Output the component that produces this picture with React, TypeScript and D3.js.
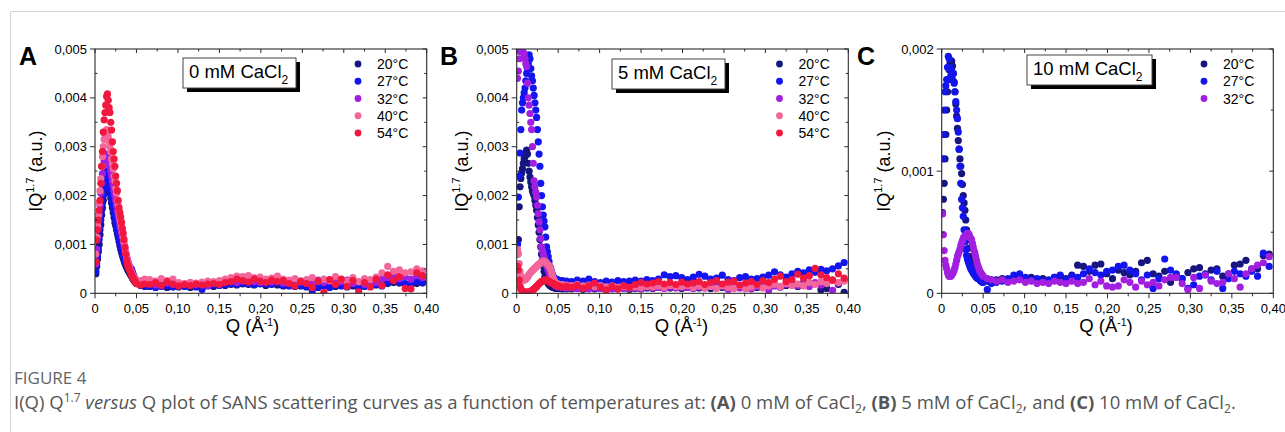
import React from "react";
import * as d3 from "d3";

// Q grid (Å^-1): dense below 0.05, coarser above
const Q = [
  0.001, 0.002, 0.003, 0.004, 0.005, 0.006, 0.007, 0.008, 0.009, 0.010,
  0.011, 0.012, 0.013, 0.014, 0.015, 0.016, 0.017, 0.018, 0.019, 0.020,
  0.021, 0.022, 0.023, 0.024, 0.025, 0.026, 0.027, 0.028, 0.029, 0.030,
  0.031, 0.032, 0.033, 0.034, 0.035, 0.036, 0.037, 0.038, 0.039, 0.040,
  0.041, 0.042, 0.043, 0.044, 0.045, 0.046, 0.047, 0.048, 0.049, 0.050,
  0.055, 0.060,
  0.066, 0.073, 0.080, 0.087, 0.094, 0.101, 0.108, 0.115, 0.122, 0.129,
  0.136, 0.143, 0.150, 0.157, 0.164, 0.171, 0.178, 0.185, 0.192, 0.199,
  0.206, 0.213, 0.220, 0.227, 0.234, 0.241, 0.248, 0.255, 0.262, 0.269,
  0.276, 0.283, 0.290, 0.297, 0.304, 0.311, 0.318, 0.325, 0.332, 0.339,
  0.346, 0.353, 0.360, 0.367, 0.374, 0.381, 0.388, 0.395,
];

// IQ^1.7 values, in units of 1e-4
// (A) 0 mM CaCl2
const A_20 = [
  4, 5.5, 7, 8.5, 10, 12, 14, 16, 17.5, 19, 20.5, 21.5, 22.5, 23, 23, 22.5, 21.5, 20.5, 19.5, 18.5,
  17.5, 16.5, 15.5, 14.5, 13.8, 13, 12.2, 11.4, 10.6, 9.8, 9, 8.4, 7.8, 7.2, 6.7, 6.2, 5.8, 5.4, 5, 4.7,
  4.4, 4.1, 3.8, 3.5, 3.2, 2.9, 2.6, 2.4, 2.2, 2.0, 1.6, 1.4,
  1.4, 1.3, 1.5, 1.2, 1.4, 1.3, 1.5, 1.2, 1.4, 1.3, 1.6, 1.4, 1.7, 1.6, 1.8, 1.7, 1.9, 1.8, 1.7, 1.9,
  1.6, 1.8, 1.7, 1.5, 1.6, 1.4, 1.5, 1.3, 1.4, 1.2, 1.5, 1.3, 1.4, 1.6, 1.3, 1.5, 1.2, 1.6, 1.4, 1.7,
  1.8, 2.0, 2.2, 2.1, 1.9, 2.2, 2.0, 2.1,
];
const A_27 = [
  4.5, 6, 7.5, 9, 11, 13, 15, 17, 18.5, 20, 21.5, 23, 24, 25, 24.8, 24, 23, 22, 21, 20,
  19, 18, 17, 16, 15, 14, 13, 12, 11.2, 10.5, 9.8, 9, 8.4, 7.8, 7.3, 6.8, 6.4, 6.1, 5.9, 5.7,
  5.5, 5.3, 5.1, 4.9, 4.4, 3.9, 3.4, 3.0, 2.6, 2.3, 1.7, 1.5,
  1.5, 1.2, 1.4, 1.6, 1.3, 1.5, 1.4, 1.6, 1.3, 0.8, 1.5, 1.7, 1.6, 1.8, 2.0, 1.9, 2.1, 2.0, 1.8, 2.0,
  1.8, 1.9, 2.1, 1.7, 1.5, 1.8, 1.6, 1.4, 0.5, 1.3, 1.6, 1.2, 1.7, 1.5, 1.4, 1.9, 1.1, 1.4, 1.6, 1.8,
  1.5, 2.3, 2.6, 2.4, 2.0, 1.8, 2.5, 2.3,
];
const A_32 = [
  6, 9, 11.5, 13.5, 16, 18, 20.5, 22.5, 24.5, 26, 27, 28, 28.5, 28.5, 28, 27.5, 27, 26, 25, 24,
  23, 22, 21, 20, 19, 18, 17, 16, 15, 14, 13.2, 12.4, 11.6, 10.8, 10, 9.2, 8.4, 7.6, 7, 6.4,
  5.8, 5.3, 4.8, 4.4, 4, 3.6, 3.3, 3, 2.8, 2.6, 2.2, 2.3,
  2.0, 1.7, 2.4, 2.1, 1.8, 2.0, 1.9, 2.2, 1.8, 2.0, 1.6, 2.1, 1.9, 2.3, 2.6, 2.2, 2.5, 2.8, 2.4, 2.2,
  2.6, 2.3, 2.5, 2.1, 2.4, 1.9, 2.3, 2.6, 2.0, 2.7, 2.2, 2.5, 2.1, 2.4, 2.7, 2.0, 2.3, 1.8, 2.6, 2.2,
  2.9, 3.2, 3.8, 3.0, 3.4, 2.9, 3.6, 3.2,
];
const A_40 = [
  8, 11.5, 14, 16, 18.5, 21, 23.5, 26, 28, 30, 31.5, 32.5, 33, 33.5, 33, 32, 31, 30, 29, 27.5,
  26.5, 25.5, 24, 23, 21.5, 20.5, 19, 18, 16.5, 15.5, 14.5, 13.5, 12.5, 11.5, 10.5, 9.5, 8.5, 7.5, 6.8, 6,
  5.5, 5, 4.6, 4.2, 3.8, 3.5, 3.2, 3, 2.8, 2.7, 2.6, 2.9,
  2.8, 2.5, 3.0, 2.6, 2.9, 2.2, 2.0, 2.2, 2.1, 2.3, 2.5, 2.4, 2.6, 2.9, 3.2, 3.5, 3.4, 3.6, 3.2, 3.3,
  2.9, 3.1, 3.5, 2.9, 2.7, 3.0, 2.6, 2.8, 3.2, 2.5, 2.9, 2.6, 3.4, 2.8, 2.5, 3.2, 2.4, 3.0, 2.8, 3.3,
  4.2, 5.5, 4.5, 4.8, 4.2, 4.4, 5.0, 4.6,
];
const A_54 = [
  6.5, 10.9, 13, 15, 17, 19, 22.5, 26, 29, 33, 35.5, 37, 38.5, 40.3, 40.8, 39.5, 38, 37, 35, 33.4,
  31, 29, 27.5, 26, 24, 22.5, 21, 19, 17.5, 16.5, 15.6, 14.5, 13.3, 12.3, 11, 9.4, 8, 6.8, 6, 5.4,
  5, 4.7, 4.2, 3.8, 3.4, 3.1, 2.8, 2.5, 2.2, 2.0, 1.7, 1.9,
  1.8, 2.2, 1.6, 2.4, 1.9, 1.5, 1.8, 1.6, 1.9, 1.7, 1.9, 2.0, 1.8, 2.2, 2.4, 2.9, 2.6, 2.3, 2.9, 2.5,
  2.2, 2.7, 2.4, 2.6, 2.0, 1.5, 2.4, 2.0, 1.2, 2.5, 0.2, 2.8, 1.8, 2.9, 1.4, 2.6, 0.3, 2.2, 1.3, 2.9,
  1.6, 3.8, 2.6, 3.4, 1.0, 0.9, 4.2, 3.6,
];

// (B) 5 mM CaCl2
const B_20 = [
  8, 11, 17.7, 21.8, 23.5, 24.6, 25.5, 26.6, 27.5, 28, 28.8, 29.3, 28.5, 26.6, 25, 23.8, 22.8, 21.8, 21, 20.5,
  20, 19, 18, 17, 15.5, 14, 12.5, 11, 9.5, 8, 6.8, 5.6, 4.5, 3.4, 3.0, 2.6, 2.3, 2.0, 1.8, 1.6,
  1.5, 1.4, 1.3, 1.2, 1.2, 1.1, 1.1, 1.0, 1.0, 1.0, 0.9, 0.9,
  0.9, 1.0, 0.8, 1.1, 0.9, 1.0, 0.8, 1.0, 0.9, 1.1, 0.8, 1.0, 0.9, 1.1, 1.0, 1.2, 1.4, 1.1, 1.3, 1.0,
  1.2, 1.4, 1.1, 1.3, 1.0, 1.5, 1.2, 1.4, 1.1, 1.6, 1.3, 1.7, 1.2, 1.5, 1.4, 1.8, 1.3, 1.6, 1.9, 1.4,
  2.2, 1.6, 2.0, 0.7, 1.0, 2.7, 1.8, 0.2,
];
const B_27 = [
  10, 19.7, 24, 28.7, 33.5, 37.5, 39, 40, 41, 42, 43.5, 45, 46, 47, 48.8, 48, 46, 44.5, 43.5, 42,
  40.5, 39, 37.5, 36, 33.5, 31, 28.5, 26, 22.5, 20, 17.7, 16, 14.8, 13.6, 11.5, 9.5, 8.5, 7.5, 6.5, 5.5,
  5, 4.4, 3.9, 3.4, 3.2, 3.0, 2.9, 2.8, 2.8, 2.7, 2.6, 2.5,
  2.4, 2.7, 2.5, 2.9, 2.4, 2.2, 2.5, 2.3, 2.6, 2.4, 2.5, 2.7, 2.5, 2.8, 2.6, 2.9, 3.8, 3.4, 3.6, 3.2,
  2.8, 3.3, 3.9, 3.5, 2.9, 3.1, 3.7, 2.8, 2.6, 3.2, 3.4, 2.9, 3.0, 3.3, 3.7, 4.4, 3.8, 3.3, 4.0, 4.5,
  4.2, 4.8, 4.3, 4.9, 4.6, 5.0, 5.6, 6.3,
];
const B_32 = [
  44, 45.5, 48, 49.5, 49.7, 49.6, 49.5, 49.3, 49, 48, 47, 46.4, 43, 40, 38.5, 36.8, 35, 33.5, 30, 26.6,
  23, 21.8, 20.7, 19.7, 18, 16.3, 14.6, 13, 11.2, 9.5, 8.8, 8.1, 7.4, 6.8, 6.2, 5.7, 5.2, 4.8, 4.2, 3.6,
  3.1, 2.7, 2.4, 2.1, 1.9, 1.7, 1.6, 1.5, 1.4, 1.3, 1.2, 1.1,
  1.1, 1.0, 1.2, 0.9, 1.1, 1.0, 1.2, 0.9, 1.1, 1.0, 1.2, 1.1, 1.0, 1.3, 1.1, 1.2, 1.0, 1.3, 1.1, 1.4,
  1.2, 1.0, 1.3, 1.1, 1.4, 1.2, 1.5, 0.8, 1.3, 1.1, 1.6, 0.9, 1.4, 1.2, 0.6, 1.5, 1.3, 1.8, 2.4, 1.6,
  2.0, 1.4, 2.2, 1.7, 2.5, 0.6, 2.1, 2.7,
];
const B_40 = [
  9, 8.1, 6.1, 4.5, 3.6, 3.1, 2.8, 2.7, 2.7, 2.8, 2.9, 3.1, 3.3, 3.6, 3.9, 4.1, 4.3, 4.5, 4.7, 4.8,
  5.0, 5.2, 5.3, 5.5, 5.7, 5.8, 6.0, 6.1, 6.3, 6.4, 6.5, 6.6, 6.6, 6.5, 6.4, 6.2, 6.0, 5.8, 5.6, 5.4,
  4.8, 4.2, 3.6, 3.1, 2.7, 2.3, 2.1, 2.0, 1.9, 1.9, 1.8, 1.7,
  1.6, 1.8, 1.5, 1.7, 1.4, 1.6, 1.3, 1.5, 1.2, 1.4, 1.1, 1.3, 1.2, 1.4, 1.3, 1.5, 1.2, 1.6, 1.4, 1.3,
  1.6, 1.2, 1.5, 1.1, 1.4, 1.0, 1.5, 1.2, 1.0, 1.6, 0.9, 1.3, 1.7, 1.1, 1.5, 1.8, 1.4, 2.0, 1.6, 1.9,
  1.5, 2.2, 1.8, 2.4, 2.0, 2.6, 2.2, 2.5,
];
const B_54 = [
  5.5, 4.8, 2.7, 1.4, 0.9, 0.6, 0.4, 0.3, 0.3, 0.2, 0.2, 0.2, 0.2, 0.3, 0.3, 0.3, 0.4, 0.5, 0.6, 0.8,
  0.9, 1.1, 1.2, 1.4, 1.6, 1.8, 2.0, 2.1, 2.3, 2.4, 2.5, 2.6, 2.7, 2.7, 2.7, 2.7, 2.6, 2.5, 2.4, 2.3,
  2.2, 2.1, 2.0, 2.0, 1.9, 1.8, 1.7, 1.6, 1.5, 1.5, 1.3, 1.4,
  1.2, 1.6, 1.0, 1.5, 2.1, 1.3, 0.7, 1.4, 0.9, 1.6, 1.2, 1.8, 2.2, 1.9, 2.1, 2.4, 1.9, 2.2, 1.8, 2.3,
  1.9, 2.1, 2.4, 1.8, 2.2, 2.6, 1.9, 2.3, 2.5, 1.7, 2.1, 2.4, 1.8, 2.6, 2.2, 2.9, 3.5, 2.4, 2.8, 3.9,
  3.1, 3.6, 5.1, 3.8, 3.2, 2.7, 4.0, 3.1,
];

// (C) 10 mM CaCl2
const C_20 = [
  6.6, 7.7, 9, 11, 13, 15, 16.5, 17.5, 18.3, 18.8, 19, 19, 18.6, 18, 17.3, 16.5, 15.5, 14.5, 13.5, 12.5,
  11.8, 11, 10.4, 9.8, 8.9, 8, 7.4, 6.8, 6, 5.2, 4.8, 4.4, 3.7, 3.0, 2.6, 2.2, 1.9, 1.7, 1.6, 1.5,
  1.4, 1.3, 1.3, 1.2, 1.2, 1.1, 1.1, 1.1, 1.0, 1.0, 1.0, 1.1,
  1.1, 1.2, 1.1, 1.3, 1.4, 1.2, 1.3, 1.1, 1.2, 1.0, 1.3, 1.4, 1.2, 1.5, 2.3, 2.2, 1.8, 2.3, 2.4, 1.6,
  1.2, 1.9, 1.7, 1.5, 1.8, 2.5, 2.7, 1.6, 1.4, 1.8, 0.9, 1.5, 1.2, 1.7, 2.0, 2.1, 1.6, 1.9, 2.0, 1.4,
  1.6, 2.3, 2.4, 2.7, 2.0, 2.0, 3.1, 3.2,
];
const C_27 = [
  11, 13, 15, 16.5, 17, 17.5, 18.5, 19.4, 19.2, 18.5, 17.8, 18.2, 17.5, 18, 17.2, 16.5, 15.7, 15, 14.3, 13.2,
  11.8, 10.4, 9.0, 7.7, 7.0, 6.3, 5.2, 4.2, 3.6, 3.1, 2.8, 2.6, 2.4, 2.2, 2.0, 1.9, 1.8, 1.7, 1.6, 1.5,
  1.4, 1.4, 1.3, 1.2, 1.2, 1.1, 1.0, 1.0, 0.9, 0.9, 0.3, 0.8,
  0.9, 1.0, 1.2, 1.5, 1.6, 1.3, 1.1, 1.2, 1.0, 1.1, 1.3, 1.5, 1.1, 1.4, 1.3, 1.6, 2.0, 1.7, 1.5, 1.8,
  1.9, 2.2, 2.3, 1.9, 1.6, 1.1, 1.5, 0.4, 1.2, 2.8, 1.9, 1.6, 1.2, 0.4, 0.7, 1.4, 1.5, 1.1, 1.8, 0.4,
  1.2, 1.8, 1.6, 1.4, 1.8, 1.4, 3.3, 2.2,
];
const C_32 = [
  6.5, 4.8, 3.5, 2.7, 2.3, 2.0, 1.7, 1.5, 1.4, 1.4, 1.4, 1.5, 1.6, 1.7, 1.9, 2.1, 2.4, 2.7, 3.0, 3.2,
  3.4, 3.6, 3.9, 4.1, 4.3, 4.5, 4.6, 4.7, 4.7, 4.8, 4.9, 4.9, 4.8, 4.6, 4.5, 4.4, 4.1, 3.8, 3.5, 3.3,
  3.0, 2.7, 2.4, 2.2, 2.0, 1.8, 1.7, 1.6, 1.5, 1.4, 1.2, 1.1,
  1.0, 1.1, 0.9, 1.0, 1.1, 0.9, 1.0, 0.8, 0.9, 0.8, 1.0, 0.9, 0.8, 1.0, 0.8, 0.9, 1.2, 0.7, 1.0, 0.6,
  0.5, 0.6, 1.1, 0.9, 0.5, 1.0, 0.7, 0.9, 0.6, 1.1, 1.3, 1.3, 0.8, 0.3, 1.3, 0.4, 1.5, 1.0, 0.8, 0.9,
  1.6, 1.2, 0.5, 1.6, 2.0, 2.3, 2.5, 3.0,
];

const TEMPS = ["20°C", "27°C", "32°C", "40°C", "54°C"];
const COLORS = ["#16167e", "#1414ee", "#a21fe0", "#f2669a", "#f1173f"];

const PANELS = [
  { id: "A", conc: "0", yMax: 0.005, yStep: 0.001, series: [A_20, A_27, A_32, A_40, A_54],
    left: 95, right: 426.7, box: { x: 183, y: 58, w: 113 }, legendX: 358, yTitleX: 41.5, xTitleX: 252.5, letterX: 19 },
  { id: "B", conc: "5", yMax: 0.005, yStep: 0.001, series: [B_20, B_27, B_32, B_40, B_54],
    left: 516.7, right: 848.3, box: { x: 612, y: 59, w: 113 }, legendX: 779.5, yTitleX: 468, xTitleX: 681.5, letterX: 440 },
  { id: "C", conc: "10", yMax: 0.002, yStep: 0.001, series: [C_20, C_27, C_32],
    left: 941.7, right: 1273.3, box: { x: 1027, y: 55, w: 125 }, legendX: 1204, yTitleX: 890, xTitleX: 1106, letterX: 857 },
];

const TOP = 49;
const BOTTOM = 293.3;
const FONT = "'Liberation Sans', Arial, Helvetica, sans-serif";
const AXIS = "#2a2a2a";
const DOT_R = 3.6;

const comma = (v: number, digits: number) => (v === 0 ? "0" : v.toFixed(digits).replace(".", ","));

function Panel({ p }: { p: (typeof PANELS)[number] }) {
  const x = d3.scaleLinear().domain([0, 0.4]).range([p.left, p.right]);
  const y = d3.scaleLinear().domain([0, p.yMax]).range([BOTTOM, TOP]);
  const xMajor = d3.range(0, 0.4001, 0.05);
  const xMinor = d3.range(0.025, 0.4, 0.05);
  const yMajor = d3.range(0, p.yMax + 1e-9, p.yStep);
  const yMinor = d3.range(p.yStep / 2, p.yMax, p.yStep);
  const clipId = `clip-${p.id}`;
  const midY = (TOP + BOTTOM) / 2;

  return (
    <g>
      <defs>
        <clipPath id={clipId}>
          <rect x={p.left} y={TOP} width={p.right - p.left} height={BOTTOM - TOP} />
        </clipPath>
      </defs>

      {/* data */}
      <g clipPath={`url(#${clipId})`}>
        {p.series.map((vals, si) => (
          <g key={si} fill={COLORS[si]}>
            {vals.map((v, i) => (
              <circle key={i} cx={x(Q[i])} cy={y(v * 1e-4)} r={DOT_R} />
            ))}
          </g>
        ))}
      </g>

      {/* frame */}
      <rect x={p.left} y={TOP} width={p.right - p.left} height={BOTTOM - TOP} fill="none" stroke={AXIS} strokeWidth={1.1} />

      {/* bottom + top ticks */}
      {xMajor.map((t) => (
        <g key={`xm${t}`}>
          <line x1={x(t)} x2={x(t)} y1={BOTTOM} y2={BOTTOM + 5} stroke={AXIS} />
          <line x1={x(t)} x2={x(t)} y1={TOP} y2={TOP + 4} stroke={AXIS} />
          <text x={x(t)} y={312.5} textAnchor="middle" fontSize={13} fontFamily={FONT}>
            {comma(t, 2)}
          </text>
        </g>
      ))}
      {xMinor.map((t) => (
        <g key={`xn${t}`}>
          <line x1={x(t)} x2={x(t)} y1={BOTTOM} y2={BOTTOM + 3} stroke={AXIS} />
          <line x1={x(t)} x2={x(t)} y1={TOP} y2={TOP + 2.5} stroke={AXIS} />
        </g>
      ))}

      {/* left + right ticks */}
      {yMajor.map((t) => (
        <g key={`ym${t}`}>
          <line x1={p.left - 5} x2={p.left} y1={y(t)} y2={y(t)} stroke={AXIS} />
          <line x1={p.right - 4} x2={p.right} y1={y(t)} y2={y(t)} stroke={AXIS} />
          <text x={p.left - 8} y={y(t) + 4.6} textAnchor="end" fontSize={13} fontFamily={FONT}>
            {comma(t, 3)}
          </text>
        </g>
      ))}
      {yMinor.map((t) => (
        <g key={`yn${t}`}>
          <line x1={p.left} x2={p.left + 2.5} y1={y(t)} y2={y(t)} stroke={AXIS} />
          <line x1={p.right - 2.5} x2={p.right} y1={y(t)} y2={y(t)} stroke={AXIS} />
        </g>
      ))}

      {/* axis titles */}
      <text transform={`translate(${p.yTitleX},${midY}) rotate(-90)`} textAnchor="middle" fontSize={18} fontFamily={FONT}>
        IQ<tspan fontSize={11} dy={-8}>1.7</tspan>
        <tspan dy={8}> (a.u.)</tspan>
      </text>
      <text x={p.xTitleX} y={332} textAnchor="middle" fontSize={18.5} fontFamily={FONT}>
        Q (Å<tspan fontSize={10.5} dy={-6.5}>-1</tspan>
        <tspan dy={6.5}>)</tspan>
      </text>

      {/* panel letter */}
      <text x={p.letterX} y={65} fontSize={25} fontWeight="bold" fontFamily={FONT}>
        {p.id}
      </text>

      {/* concentration box */}
      <rect x={p.box.x + 4} y={p.box.y + 4} width={p.box.w} height={30} fill="#000" />
      <rect x={p.box.x} y={p.box.y} width={p.box.w} height={30} fill="#fff" stroke="#444" strokeWidth={1} />
      <text x={p.box.x + 6} y={p.box.y + 19.5} fontSize={18.5} fontFamily={FONT}>
        {p.conc} mM CaCl<tspan fontSize={12} dy={6}>2</tspan>
      </text>

      {/* legend */}
      {p.series.map((_, si) => (
        <g key={`lg${si}`}>
          <circle cx={p.legendX} cy={64 + si * 17.25} r={3.4} fill={COLORS[si]} />
          <text x={p.legendX + 19} y={64 + si * 17.25 + 5} fontSize={14} fontFamily={FONT}>
            {TEMPS[si]}
          </text>
        </g>
      ))}
    </g>
  );
}

export default function App() {
  const capFont = "'Open Sans', 'Noto Sans', sans-serif";
  return (
    <svg width={1285} height={432} style={{ position: "absolute", left: 0, top: 0, background: "#fff" }}>
      <path d="M10.5,432 V11.5 H1285" fill="none" stroke="#d4d4d4" strokeWidth={1} />
      {PANELS.map((p) => (
        <Panel key={p.id} p={p} />
      ))}
      <text x={14} y={384} fontSize={17} fill="#666" fontFamily={capFont}>
        FIGURE 4
      </text>
      <text x={14} y={409} fontSize={18.5} fill="#555" fontFamily={capFont}>
        I(Q) Q<tspan fontSize={12} dy={-7}>1.7</tspan>
        <tspan dy={7}> </tspan>
        <tspan fontStyle="italic">versus</tspan> Q plot of SANS scattering curves as a function of temperatures at:{" "}
        <tspan fontWeight="bold">(A)</tspan> 0 mM of CaCl<tspan fontSize={12} dy={4}>2</tspan>
        <tspan dy={-4}>, </tspan>
        <tspan fontWeight="bold">(B)</tspan> 5 mM of CaCl<tspan fontSize={12} dy={4}>2</tspan>
        <tspan dy={-4}>, and </tspan>
        <tspan fontWeight="bold">(C)</tspan> 10 mM of CaCl<tspan fontSize={12} dy={4}>2</tspan>
        <tspan dy={-4}>.</tspan>
      </text>
    </svg>
  );
}
